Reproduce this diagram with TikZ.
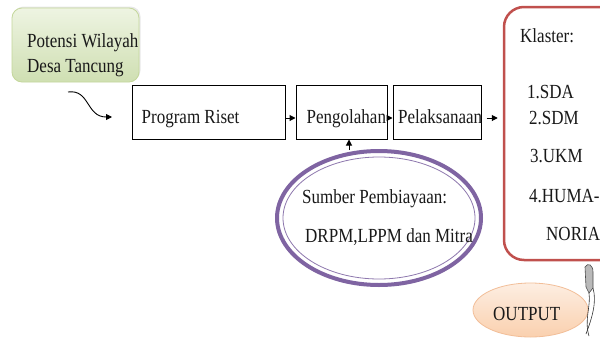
\documentclass[tikz,border=0pt]{standalone}
\usepackage{fontspec}
\setmainfont{Liberation Serif}
\usetikzlibrary{shapes.geometric,arrows.meta,calc,shadows}
\definecolor{greenTop}{HTML}{EEF4E2}
\definecolor{greenBot}{HTML}{CFDFB2}
\definecolor{greenEdge}{HTML}{C4D79B}
\definecolor{purpleC}{HTML}{7F64A2}
\definecolor{purpleL}{HTML}{8E78AE}
\definecolor{redC}{HTML}{C0504D}
\definecolor{peachTop}{HTML}{FDEEE2}
\definecolor{peachBot}{HTML}{FAD0AE}
\definecolor{peachEdge}{HTML}{F2BE98}
\newcommand{\cond}[1]{\scalebox{0.85}[1]{#1}}
\begin{document}
\begin{tikzpicture}[x=1pt,y=-1pt,
  txt/.style={font=\rmfamily\fontsize{20}{24}\selectfont, text=black!90, anchor=base west, inner sep=0pt},
  procbox/.style={draw=black, line width=1pt, rectangle, inner sep=0pt, minimum height=54pt},
  arr/.style={-{Triangle[length=6pt,width=6pt]}, line width=1pt},
]
\clip (0,0) rectangle (600,362);
\fill[white] (0,0) rectangle (600,362);

% green start box
\node[rounded corners=10pt, draw=greenEdge, line width=0.8pt, top color=greenTop, bottom color=greenBot,
      drop shadow={opacity=0.18, shadow xshift=1.5pt, shadow yshift=1.5pt},
      minimum width=127pt, minimum height=74pt, inner sep=0pt] (pot) at (75.5,45) {};
\node[txt] (t1) at (27,47) {\cond{Potensi Wilayah}};
\node[txt] (t2) at (27,72) {\cond{Desa Tancung}};

% process boxes
\node[procbox, minimum width=153pt] (prog) at (208.5,112) {};
\node[txt] (tprog) at (141.5,123) {\cond{Program Riset}};
\node[procbox, minimum width=91pt] (peng) at (341.5,112) {};
\node[txt] (tpeng) at (306.5,123.5) {\cond{Pengolahan}};
\node[procbox, minimum width=88pt] (pel) at (437,112) {};
\node[txt] (tpel) at (398,123.5) {\cond{Pelaksanaan}};

% klaster box
\node[draw=redC, line width=2.5pt, rounded corners=20pt, minimum width=120pt, minimum height=253pt, inner sep=0pt] (klas) at (564,133.5) {};
\node[txt] (k0) at (520,42.5) {\cond{Klaster:}};
\node[txt] (k1) at (527,98) {\cond{1.SDA}};
\node[txt] (k2) at (529,124) {\cond{2.SDM}};
\node[txt] (k3) at (530,162) {\cond{3.UKM}};
\node[txt] (k4) at (529,202) {\cond{4.HUMA-}};
\node[txt] (k5) at (546,240) {\cond{NORIA}};

% funding ellipse
\node[ellipse, draw=purpleC, line width=4pt, minimum width=204pt, minimum height=134pt, inner sep=0pt] (fund) at (379,218) {};
\draw[purpleL, line width=0.8pt] (fund.center) ellipse [x radius=96pt, y radius=61pt];
\node[txt] (f1) at (302,203) {\cond{Sumber Pembiayaan:}};
\node[txt] (f2) at (305,242) {\cond{DRPM,LPPM dan Mitra}};

% output ellipse
\node[ellipse, draw=peachEdge, line width=0.8pt, top color=peachTop, bottom color=peachBot,
      minimum width=115pt, minimum height=54pt, inner sep=0pt] (out) at (530.5,310) {};
\node[txt] (tout) at (493,320) {\cond{OUTPUT}};

% connectors
\coordinate (s1) at (68,92);
\coordinate (e1) at (112,117);
\draw[arr, line width=0.9pt] (s1) .. controls (90,89) and (86,117) .. (e1);
\draw[arr] ($(prog.east)+(0,6)$) -- ($(peng.west)+(0,6)$);
\draw[arr] ($(peng.east)+(0,6)$) -- ($(pel.west)+(0,6)$);
\draw[arr] ($(pel.east)+(5,6)$) -- ($(pel.east -| klas.west)+(-5,6)$);
\draw[arr] ($(fund.north)+(-30,1)$) -- ($(peng.south)+(7.5,0)$);

% grey curved arrow from klaster towards output
\filldraw[fill=gray!55, draw=black!70, line width=0.6pt]
  (585,267) .. controls (588,262) and (593,265) .. (593,272) -- (593,288) -- (589,293) -- (586,287) -- cycle;
\draw[black!80, line width=0.6pt] (593,288) .. controls (597,302) and (592,318) .. (586,334);
\draw[black!80, line width=0.6pt] (589,293) .. controls (591,306) and (584,320) .. (589,336);
\end{tikzpicture}
\end{document}
